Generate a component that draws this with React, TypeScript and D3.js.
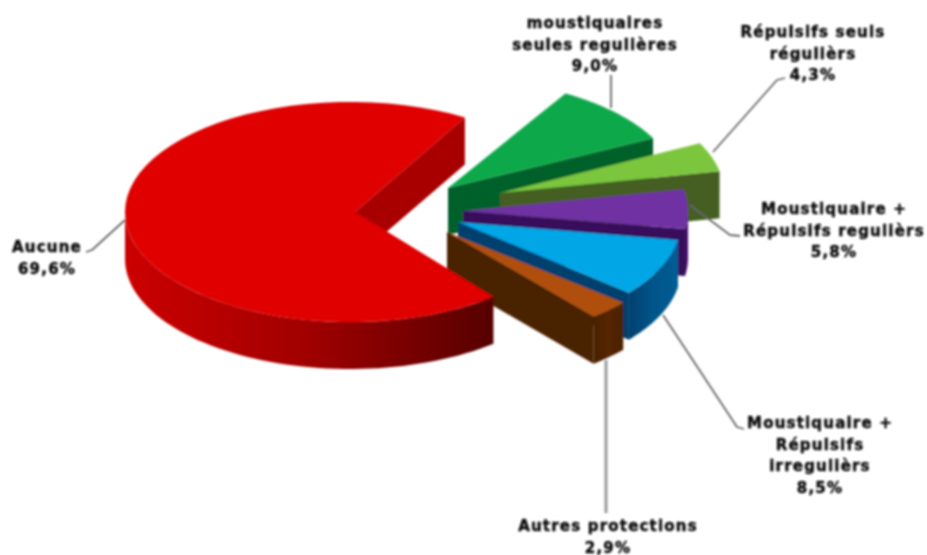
import React from "react";
import * as d3 from "d3";

const categories = ["Aucune", "moustiquaires seules regulières", "Répulsifs seuls régulièrs", "Moustiquaire + Répulsifs regulièrs", "Moustiquaire + Répulsifs irregulièrs", "Autres protections"];
const values = [69.6, 9.0, 4.3, 5.8, 8.5, 2.9];
const valueLabels = ["69,6%", "9,0%", "4,3%", "5,8%", "8,5%", "2,9%"];
const labelLines = [
  ["Aucune"],
  ["moustiquaires", "seules regulières"],
  ["Répulsifs seuls", "régulièrs"],
  ["Moustiquaire +", "Répulsifs regulièrs"],
  ["Moustiquaire +", "Répulsifs", "irregulièrs"],
  ["Autres protections"],
];
const topColors = ["#e00000", "#0aa84a", "#7cc63e", "#7030a2", "#00a6e6", "#b05008"];
const radialColors = ["#a80000", "#00602c", "#445f24", "#38085c", "#00406e", "#4a2000"];
const wallStops = [
  ["#cc0000", "#a00000", "#560000"],
  ["#00602c", "#00602c", "#00602c"],
  ["#445f24", "#445f24", "#445f24"],
  ["#38085c", "#44106c", "#38085c"],
  ["#00406e", "#00568a", "#005c94"],
  ["#4a2000", "#552600", "#4a2000"],
];
const explode: [number, number][] = [[0, 0], [93, -24], [145, -19], [108, -1], [103, 10], [92, 20]];
const radiusX = [225, 230, 224, 225, 223, 230];
const arcShift = [-5, 0, 0, 0, 0, 0];
const labelPos: [number, number][] = [[47, 252], [595, 28], [813, 37], [834, 214], [820, 428], [608, 531]];
const leaders: [number, number][][] = [
  [[125, 220], [92, 250], [86, 252]],
  [[611, 75], [611, 108]],
  [[713, 152], [777, 80], [785, 78]],
  [[690, 205], [730, 235], [740, 236]],
  [[663, 315], [737, 427], [744, 429]],
  [[606, 360], [606, 513]],
];

const W = 927, H = 555, CX = 355, CY = 212, RY = 110, DEPTH = 47;
const deg = Math.PI / 180;

export default function App() {
  const arcs = d3.pie<number>().sort(null).startAngle(140.4 * deg).endAngle(500.4 * deg)(values)
    .map((d) => {
      const turn = d.startAngle >= 360 * deg ? 360 * deg : 0;
      return { start: d.startAngle - turn, end: d.endAngle - turn };
    });
  const line = d3.line();
  const order = [1, 2, 3, 4, 5, 0];
  const at = (i: number, a: number, dy = 0): [number, number] => [
    CX + explode[i][0] + arcShift[i] + radiusX[i] * Math.sin(a),
    CY + explode[i][1] + dy - RY * Math.cos(a),
  ];
  const arcPts = (i: number, s: number, e: number, dy = 0) => d3.range(0, 61).map((k) => at(i, s + ((e - s) * k) / 60, dy));
  return (
    <svg width={W} height={H} style={{ position: "absolute", left: 0, top: 0, background: "#fff" }}>
      <defs>
        <filter id="soft" x="-5%" y="-5%" width="110%" height="110%">
          <feGaussianBlur stdDeviation="0.8" />
        </filter>
        {arcs.map((d, i) => {
          const xs = arcPts(i, Math.max(d.start, 90 * deg), Math.min(d.end, 270 * deg)).map((p) => p[0]);
          return (
            <linearGradient key={i} id={`w${i}`} gradientUnits="userSpaceOnUse" x1={d3.min(xs)} x2={d3.max(xs)} y1={0} y2={0}>
              <stop offset="0" stopColor={wallStops[i][0]} />
              <stop offset="0.5" stopColor={wallStops[i][1]} />
              <stop offset="1" stopColor={wallStops[i][2]} />
            </linearGradient>
          );
        })}
      </defs>
      <g filter="url(#soft)">
        {order.map((i) => {
          const d = arcs[i];
          const apex: [number, number] = [CX + explode[i][0], CY + explode[i][1]];
          const apexB: [number, number] = [apex[0], apex[1] + DEPTH];
          const top = arcPts(i, d.start, d.end);
          const endWall = [apex, at(i, d.end), at(i, d.end, DEPTH), apexB] as [number, number][];
          const s = Math.max(d.start, 90 * deg);
          const e = Math.min(d.end, 270 * deg);
          const outer = e > s ? [...arcPts(i, s, e), ...arcPts(i, s, e, DEPTH).reverse()] : null;
          return (
            <g key={i}>
              {outer && <path d={line(outer) + "Z"} fill={`url(#w${i})`} />}
              <path d={line(endWall) + "Z"} fill={radialColors[i]} />
              <path d={line([apex, ...top]) + "Z"} fill={topColors[i]} />
            </g>
          );
        })}
        {leaders.map((pts, i) => (
          <path key={i} d={line(pts) ?? ""} fill="none" stroke={i === 5 ? "#999" : "#666"} strokeWidth={i === 5 ? 3 : 1.8} strokeLinejoin="round" />
        ))}
        {categories.map((c, i) => {
          const lines = [...labelLines[i], valueLabels[i]];
          return (
            <text key={c} x={labelPos[i][0]} y={labelPos[i][1]} textAnchor="middle" fontFamily="'DejaVu Sans', Verdana, sans-serif" fontWeight="bold" fontSize={15} letterSpacing={1.2} fill="#111" stroke="#111" strokeWidth={0.5}>
              {lines.map((t, j) => (
                <tspan key={j} x={labelPos[i][0]} dy={j === 0 ? 0 : 21.5}>{t}</tspan>
              ))}
            </text>
          );
        })}
      </g>
    </svg>
  );
}
